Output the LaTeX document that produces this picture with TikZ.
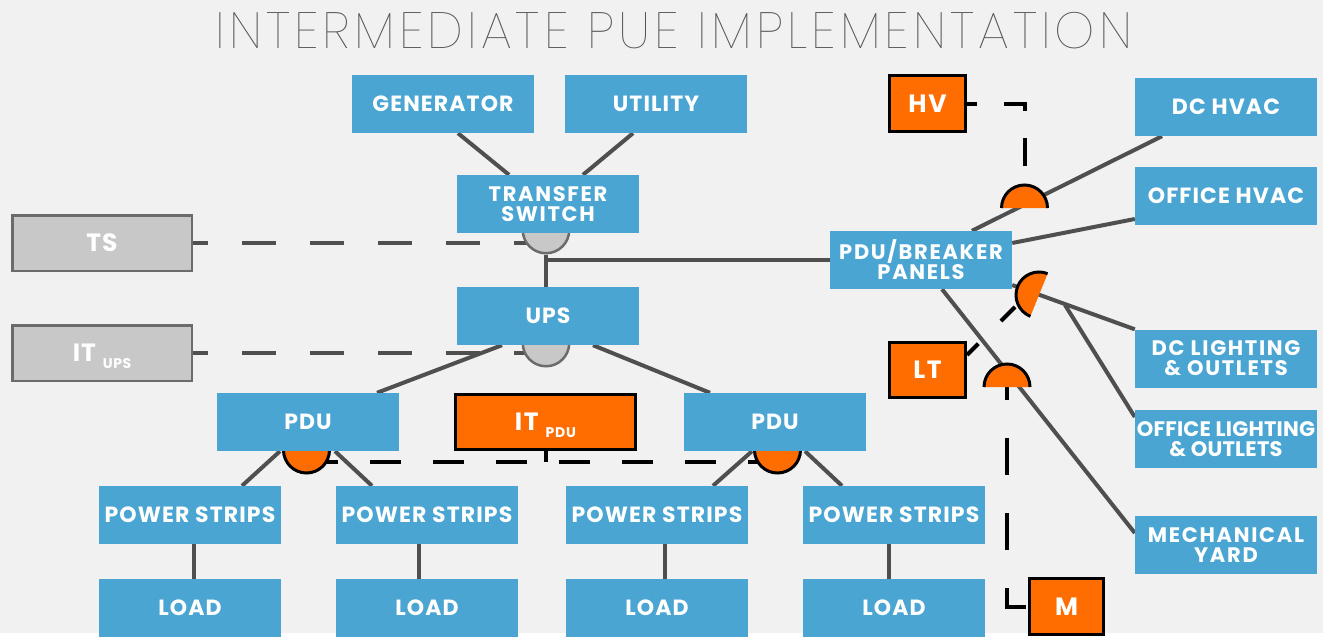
\documentclass[tikz,border=0pt]{standalone}
\usepackage{fontspec}
\setmainfont{Poppins}
\IfFontExistsTF{Poppins Thin}{\newfontfamily\titlefont{Poppins Thin}[LetterSpace=8]}{%
	\IfFontExistsTF{Poppins Light}{\newfontfamily\titlefont{Poppins Light}[LetterSpace=8]}{\newfontfamily\titlefont{Poppins}[LetterSpace=8]}}

\definecolor{bgcol}{HTML}{F1F1F1}
\definecolor{boxblue}{HTML}{4BA5D3}
\definecolor{meterorange}{HTML}{FF6D00}
\definecolor{boxgrey}{HTML}{C8C8C8}
\definecolor{edgegrey}{HTML}{6B6B6B}
\definecolor{wirecol}{HTML}{4F4F4F}
\definecolor{titlegrey}{HTML}{555555}

\pgfdeclarelayer{paper}
\pgfdeclarelayer{wires}
\pgfdeclarelayer{meters}
\pgfsetlayers{paper,wires,meters,main}

\newcommand\sublbl[1]{\hspace{7pt}\raisebox{-7pt}[0pt][0pt]{\fontsize{14}{14}\selectfont #1}}
\newcommand\halfmeter[2]{%
	\fill[meterorange] #1 ++(#2:23pt) arc[start angle=#2, delta angle=180, radius=23pt] -- cycle;
	\draw[black, line width=3pt] #1 ++(#2:23pt) arc[start angle=#2, delta angle=180, radius=23pt];}

\begin{document}
\begin{tikzpicture}[x=1pt, y=-1pt,
	blk/.style={fill=boxblue, text=white, minimum width=182pt, minimum height=58pt, inner sep=0pt, align=center, font=\fontsize{22}{22}\selectfont\bfseries\addfontfeature{LetterSpace=5}},
	blk2/.style={blk, font=\fontsize{21}{20}\selectfont\bfseries\addfontfeature{LetterSpace=8}},
	obox/.style={fill=meterorange, draw=black, line width=3pt, text=white, minimum width=76pt, minimum height=56pt, inner sep=0pt, font=\fontsize{25}{25}\selectfont\bfseries\addfontfeature{LetterSpace=6}},
	gbox/.style={fill=boxgrey, draw=edgegrey, line width=2.5pt, text=white, minimum width=179.5pt, minimum height=55.5pt, inner sep=0pt, font=\fontsize{25}{25}\selectfont\bfseries\addfontfeature{LetterSpace=4}},
	gmtr/.style={circle, fill=boxgrey, draw=edgegrey, line width=2.5pt, minimum size=46.5pt, inner sep=0pt},
	omtr/.style={circle, fill=meterorange, draw=black, line width=3pt, minimum size=46pt, inner sep=0pt},
	wire/.style={draw=wirecol, line width=4pt},
	gdash/.style={draw=wirecol, line width=4pt, dash pattern=on 34pt off 34pt, dash phase=19pt},
	kdash/.style={draw=black, line width=4pt}]

	\begin{pgfonlayer}{paper}
		\path[fill=bgcol, use as bounding box] (0,0) rectangle (1323,633);
	\end{pgfonlayer}

	\node[font=\titlefont\fontsize{51}{51}\selectfont, text=titlegrey, inner sep=0pt] (title) at (674,30.5) {INTERMEDIATE PUE IMPLEMENTATION};

	\node[blk] (gen) at (443,104) {GENERATOR};
	\node[blk] (util) at (656,104) {UTILITY};
	\node[blk2] (ts) at (548,204) {TRANSFER\\SWITCH};
	\node[blk] (ups) at (548,316) {UPS};
	\node[blk] (pduL) at (308,422) {PDU};
	\node[blk] (pduR) at (775,422) {PDU};

	\node[blk] (psA) at (190,515) {POWER STRIPS};
	\node[blk] (psB) at (427,515) {POWER STRIPS};
	\node[blk] (psC) at (657,515) {POWER STRIPS};
	\node[blk] (psD) at (894,515) {POWER STRIPS};
	\node[blk] (loadA) at (190,608) {LOAD};
	\node[blk] (loadB) at (427,608) {LOAD};
	\node[blk] (loadC) at (657,608) {LOAD};
	\node[blk] (loadD) at (894,608) {LOAD};

	\node[blk2] (brk) at (921,260) {PDU/BREAKER\\PANELS};
	\node[blk] (dchvac) at (1226,107) {DC HVAC};
	\node[blk] (offhvac) at (1226,195.5) {OFFICE HVAC};
	\node[blk2] (dclight) at (1226,358.5) {DC LIGHTING\\\& OUTLETS};
	\node[blk2, font=\fontsize{21}{20}\selectfont\bfseries\addfontfeature{LetterSpace=1}] (offlight) at (1226,439) {OFFICE LIGHTING\\\& OUTLETS};
	\node[blk2] (mech) at (1226,545) {MECHANICAL\\YARD};

	\node[gbox] (tsbox) at (102,243) {TS};
	\node[gbox] (itups) at (102,353) {IT\sublbl{UPS}};
	\node[obox, minimum width=180pt, minimum height=55pt] (itpdu) at (545.5,422) {IT\sublbl{PDU}};
	\node[obox] (hv) at (927.5,103.5) {HV};
	\node[obox, minimum height=55pt] (lt) at (927.5,370) {LT};
	\node[obox, minimum width=74pt] (m) at (1066.5,606.5) {M};

	\coordinate (hvM) at (1024.5,208);
	\coordinate (ltM) at (1039,295);
	\coordinate (mM) at (1007,387);
	\coordinate (ltTap) at (1015,307);
	\coordinate (tap) at (1065,305);

	\begin{pgfonlayer}{meters}
		\node[gmtr] (tsM) at (546,230) {};
		\node[gmtr] (upsM) at (546,343) {};
		\node[omtr] (pduLM) at (306.5,450) {};
		\node[omtr] (pduRM) at (777.5,450) {};
		\halfmeter{(hvM)}{0}
		\halfmeter{(ltM)}{68}
		\halfmeter{(mM)}{0}
	\end{pgfonlayer}

	\begin{pgfonlayer}{wires}
		\draw[wire] ([xshift=15pt]gen.south) -- ([xshift=-39pt]ts.north);
		\draw[wire] ([xshift=-23pt]util.south) -- ([xshift=35pt]ts.north);
		\draw[wire] (tsM.south) -- (tsM.south |- ups.north);
		\draw[wire] (tsM.center |- brk.west) -- (brk.west);
		\draw[wire] ([xshift=-46pt]ups.south) -- ([xshift=69pt]pduL.north);
		\draw[wire] ([xshift=45pt]ups.south) -- ([xshift=-65pt]pduR.north);
		\draw[wire] ([xshift=-28pt]pduL.south) -- ([xshift=52pt]psA.north);
		\draw[wire] ([xshift=27pt]pduL.south) -- ([xshift=-55pt]psB.north);
		\draw[wire] ([xshift=-23pt]pduR.south) -- ([xshift=56pt]psC.north);
		\draw[wire] ([xshift=30pt]pduR.south) -- ([xshift=-52pt]psD.north);
		\draw[wire] ([xshift=4pt]psA.south) -- ([xshift=4pt]loadA.north);
		\draw[wire] ([xshift=-8pt]psB.south) -- ([xshift=-8pt]loadB.north);
		\draw[wire] ([xshift=8pt]psC.south) -- ([xshift=8pt]loadC.north);
		\draw[wire] ([xshift=-5pt]psD.south) -- ([xshift=-5pt]loadD.north);

		\draw[wire] ([xshift=51pt]brk.north) -- ([xshift=-64pt]dchvac.south);
		\draw[wire] ([yshift=17pt]brk.east) -- ([yshift=-23.5pt]offhvac.west);
		\draw[wire] ([yshift=-25pt]brk.east) -- (dclight.north west);
		\draw[wire] (tap) -- ([yshift=22pt]offlight.west);
		\draw[wire] ([xshift=21pt]brk.south) -- ([yshift=12pt]mech.west);

		\draw[gdash] (tsbox.east) -- (tsbox.east -| tsM.center);
		\draw[gdash] (itups.east) -- (itups.east -| upsM.center);
		\draw[kdash, dash pattern=on 31pt off 32pt] ([yshift=-12pt]pduLM.center) -- ([yshift=-12pt]pduRM.center);
		\draw[kdash] (itpdu.south) -- ++(0,11);
		\draw[kdash, dash pattern=on 28pt off 27pt, dash phase=18pt] (hv.east) -| (hvM);
		\draw[kdash, dash pattern=on 31pt off 32pt, dash phase=15pt] ([yshift=15pt]lt.east) -- (ltTap);
		\draw[kdash, dash pattern=on 37pt off 38pt, dash phase=24pt] (mM) |- (m.west);
	\end{pgfonlayer}
\end{tikzpicture}
\end{document}
